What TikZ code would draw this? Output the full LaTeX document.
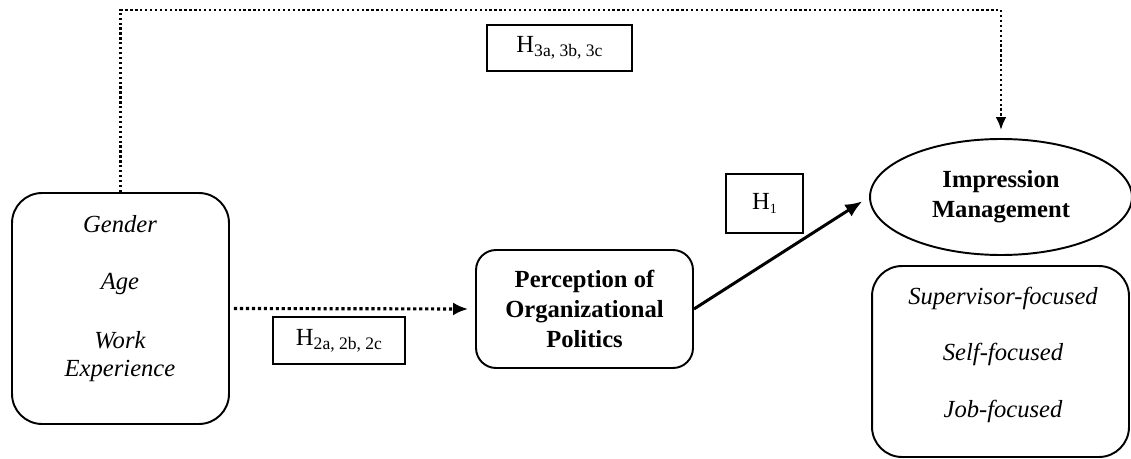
\documentclass[tikz,border=0pt]{standalone}
\usepackage{fontspec}
\setmainfont{Liberation Serif}
\usepackage{tikz}
\usetikzlibrary{shapes, arrows, arrows.meta, positioning, calc}

\newcommand{\hsub}[1]{\raisebox{-2.5pt}{\fontsize{10}{10}\selectfont #1}}

\begin{document}
\begin{tikzpicture}[x=0.02cm, y=-0.02cm]
        \tikzset{
            var_box/.style={rectangle, draw=black, line width=1.1pt, rounded corners=0.6cm, fill=white},
            hyp_box/.style={rectangle, draw=black, line width=1.1pt, inner sep=0pt, font=\fontsize{14}{17}\selectfont},
            item_text/.style={font=\fontsize{14}{17}\selectfont\itshape, inner sep=0pt},
            bold_text/.style={font=\fontsize{14}{17}\selectfont\bfseries, align=center},
            dot_line/.style={line width=1.5pt, dash pattern=on 1.3pt off 1.5pt, -{Latex[length=0.26cm, width=0.22cm]}},
            dot_arrow/.style={line width=1.8pt, dash pattern=on 1.8pt off 1.6pt, -{Latex[length=0.3cm, width=0.26cm]}},
            main_arrow/.style={line width=1.7pt, -{Latex[length=0.34cm, width=0.28cm]}}
        }
        \useasboundingbox (0,0) rectangle (1131,459);

        % demographics
        \node[var_box, minimum width=4.34cm, minimum height=4.62cm] (demo) at (120.5,308.5) {};
        \node[item_text] (gender) at (120,224) {Gender};
        \node[item_text] (age) at (120,284) {Age};
        \node[item_text] (work) at (120,340) {Work};
        \node[item_text] (exper) at (120,371) {Experience};

        % perception of politics
        \node[var_box, rounded corners=0.4cm, minimum width=4.34cm, minimum height=2.36cm, bold_text] (pop) at (584.5,309) {Perception of\\Organizational\\Politics};

        % impression management
        \node[ellipse, draw=black, line width=1.1pt, inner sep=0pt, minimum width=5.24cm, minimum height=2.32cm, bold_text] (im) at (1001,197) {Impression\\Management};
        \node[var_box, minimum width=5.14cm, minimum height=3.82cm] (imtypes) at (1000.5,361.5) {};
        \node[item_text] (superv) at (1003,298) {Supervisor-focused};
        \node[item_text] (self) at (1003,354) {Self-focused};
        \node[item_text] (job) at (1003,411) {Job-focused};

        % hypotheses
        \node[hyp_box, minimum width=2.9cm, minimum height=0.92cm] (h3) at (559.5,48) {H\hsub{3a, 3b, 3c}\hspace{0.3cm}};
        \node[hyp_box, minimum width=2.64cm, minimum height=0.94cm] (h2) at (339,340.5) {H\hsub{2a, 2b, 2c}\hspace{0.1cm}};
        \node[hyp_box, minimum width=1.54cm, minimum height=1.18cm] (h1) at (764.5,203.5) {H\hsub{\fontsize{8}{8}\selectfont 1}\hspace{0.1cm}};

        \draw[dot_line, shorten >=0.16cm] (demo.north) -- (demo.north |- 0,10) -| (im.north);
        \draw[dot_arrow, shorten <=0.08cm, shorten >=0.14cm] (demo.east) -- (pop.west);
        \draw[main_arrow, shorten >=0.16cm] (pop.east) -- (im.west);

    \end{tikzpicture}
\end{document}
